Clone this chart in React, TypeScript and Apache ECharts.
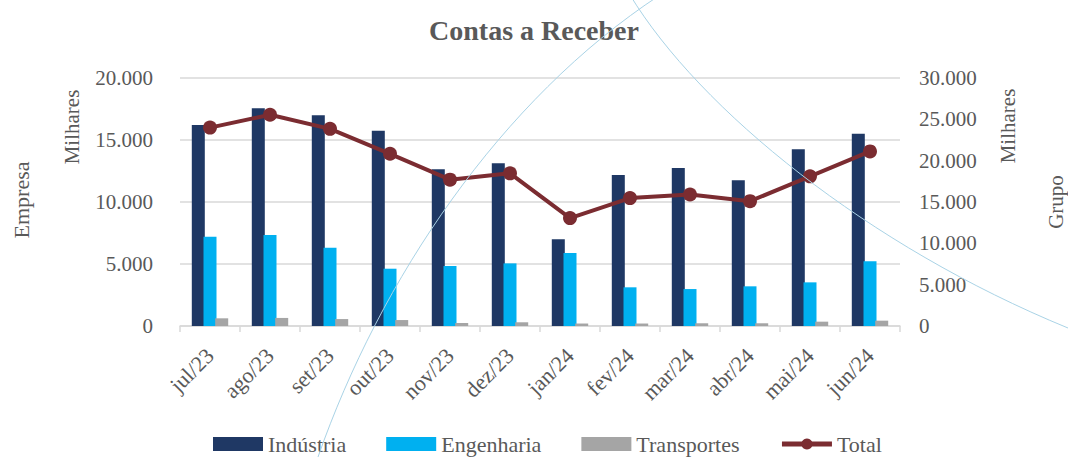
import React, { useEffect, useRef } from 'react';
import * as echarts from 'echarts';

const categories = ['jul/23', 'ago/23', 'set/23', 'out/23', 'nov/23', 'dez/23', 'jan/24', 'fev/24', 'mar/24', 'abr/24', 'mai/24', 'jun/24'];
const industria = [16200, 17560, 17000, 15750, 12640, 13120, 6990, 12180, 12740, 11750, 14250, 15510];
const engenharia = [7200, 7340, 6310, 4620, 4840, 5050, 5890, 3120, 2980, 3200, 3520, 5220];
const transportes = [620, 650, 560, 480, 240, 300, 200, 200, 220, 220, 350, 430];
const total = [24000, 25550, 23850, 20830, 17700, 18470, 13050, 15470, 15900, 15100, 18100, 21120];
const seriesNames = ['Indústria', 'Engenharia', 'Transportes', 'Total'];

const FONT = '"Liberation Serif", "Times New Roman", serif';
const GRAY = '#595959';
const LINE_COLOR = '#7B2C31';

const fmt = (v: number) => String(v).replace(/\B(?=(\d{3})+(?!\d))/g, '.');

export default function App() {
  const ref = useRef<HTMLDivElement>(null);
  useEffect(() => {
    if (!ref.current) return;
    const chart = echarts.init(ref.current, undefined, { renderer: 'svg' });
    chart.setOption({
      animation: false,
      backgroundColor: '#ffffff',
      title: {
        text: 'Contas a Receber',
        left: 'center',
        top: 11,
        textStyle: { fontFamily: FONT, fontSize: 28, fontWeight: 'bold', color: GRAY },
      },
      grid: { left: 180, right: 168, top: 78, bottom: 131, containLabel: false },
      legend: {
        left: 208,
        top: 428,
        itemWidth: 50,
        itemHeight: 14,
        itemGap: 40,
        textStyle: { fontFamily: FONT, fontSize: 22, color: GRAY },
        data: [
          { name: seriesNames[0], icon: 'rect' },
          { name: seriesNames[1], icon: 'rect' },
          { name: seriesNames[2], icon: 'rect' },
          { name: seriesNames[3], lineStyle: { width: 5, color: LINE_COLOR }, itemStyle: { color: LINE_COLOR } },
        ],
      },
      xAxis: {
        type: 'category',
        data: categories,
        axisLine: { lineStyle: { color: '#D9D9D9', width: 1.5 } },
        axisTick: { show: true, length: 6, lineStyle: { color: '#D9D9D9', width: 1.5 } },
        axisLabel: { rotate: 45, margin: 26, fontFamily: FONT, fontSize: 22, color: GRAY },
      },
      yAxis: [
        {
          type: 'value',
          min: 0,
          max: 20000,
          interval: 5000,
          axisLine: { show: false },
          axisTick: { show: false },
          splitLine: { lineStyle: { color: '#D9D9D9', width: 1.5 } },
          axisLabel: { margin: 27, fontFamily: FONT, fontSize: 21, color: GRAY, formatter: fmt },
        },
        {
          type: 'value',
          min: 0,
          max: 30000,
          interval: 5000,
          axisLine: { show: false },
          axisTick: { show: false },
          splitLine: { show: false },
          axisLabel: { margin: 19, fontFamily: FONT, fontSize: 21, color: GRAY, formatter: fmt },
        },
      ],
      series: [
        { name: seriesNames[0], type: 'bar', data: industria, barWidth: 13, barGap: '-10%', itemStyle: { color: '#1F3864' } },
        { name: seriesNames[1], type: 'bar', data: engenharia, barWidth: 13, barGap: '-10%', itemStyle: { color: '#00B0F0' } },
        { name: seriesNames[2], type: 'bar', data: transportes, barWidth: 13, barGap: '-10%', itemStyle: { color: '#A5A5A5' } },
        {
          name: seriesNames[3],
          type: 'line',
          yAxisIndex: 1,
          data: total,
          symbol: 'circle',
          symbolSize: 14,
          lineStyle: { color: LINE_COLOR, width: 4 },
          itemStyle: { color: LINE_COLOR },
          z: 5,
        },
      ],
      graphic: [
        {
          type: 'bezierCurve',
          silent: true,
          z: 100,
          shape: { x1: 318, y1: 457, cpx1: 380, cpy1: 280, cpx2: 500, cpy2: 100, x2: 660, y2: -5 },
          style: { stroke: '#A9D3E6', lineWidth: 1, fill: 'none' },
        },
        {
          type: 'bezierCurve',
          silent: true,
          z: 100,
          shape: { x1: 630, y1: -5, cpx1: 700, cpy1: 110, cpx2: 868, cpy2: 246, x2: 1068, y2: 328 },
          style: { stroke: '#A9D3E6', lineWidth: 1, fill: 'none' },
        },
        {
          type: 'text', x: 21, y: 200, rotation: Math.PI / 2,
          style: { text: 'Empresa', fontFamily: FONT, fontSize: 22, fill: GRAY, align: 'center', verticalAlign: 'middle' },
        },
        {
          type: 'text', x: 72, y: 127, rotation: Math.PI / 2,
          style: { text: 'Milhares', fontFamily: FONT, fontSize: 21, fill: GRAY, align: 'center', verticalAlign: 'middle' },
        },
        {
          type: 'text', x: 1008, y: 126, rotation: Math.PI / 2,
          style: { text: 'Milhares', fontFamily: FONT, fontSize: 21, fill: GRAY, align: 'center', verticalAlign: 'middle' },
        },
        {
          type: 'text', x: 1056, y: 202, rotation: Math.PI / 2,
          style: { text: 'Grupo', fontFamily: FONT, fontSize: 21, fill: GRAY, align: 'center', verticalAlign: 'middle' },
        },
      ],
    });
    return () => chart.dispose();
  }, []);
  return <div ref={ref} style={{ position: 'fixed', left: 0, top: 0, width: 1068, height: 457 }} />;
}
